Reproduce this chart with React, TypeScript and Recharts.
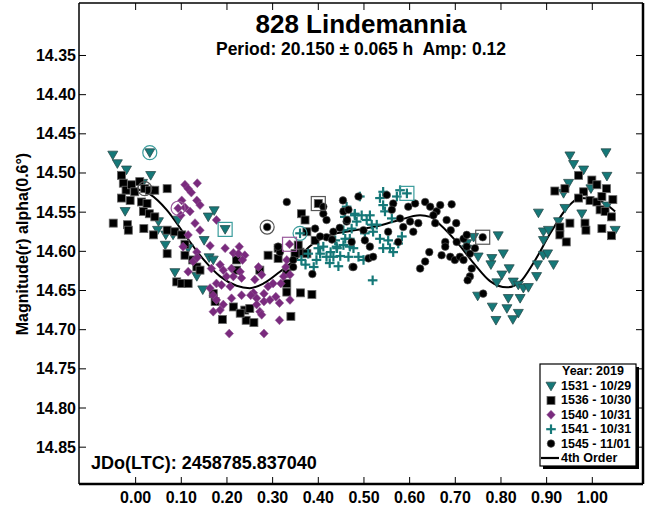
import { ComposedChart, Scatter, Line, XAxis, YAxis, ReferenceLine } from "recharts";

// phase / magnitude pairs
const S1531: [number, number][] = [
  [-0.05, 14.477], [-0.04, 14.488], [-0.02, 14.496], [0.031, 14.474], [0.033, 14.503], [0.015, 14.513],
  [-0.023, 14.549], [0.05, 14.562], [0.048, 14.573], [0.066, 14.579], [0.065, 14.592], [0.086, 14.627],
  [0.093, 14.56], [0.147, 14.649], [0.15, 14.586], [0.159, 14.556], [0.172, 14.548], [0.161, 14.608],
  [0.134, 14.632], [0.196, 14.572], [0.115, 14.596], [0.17, 14.611], [0.082, 14.579],
  [0.951, 14.478], [1.03, 14.474], [0.959, 14.489], [0.981, 14.496], [1.032, 14.504], [0.948, 14.513],
  [0.937, 14.526], [0.997, 14.52], [1.032, 14.542], [0.977, 14.552], [0.94, 14.545], [0.882, 14.551],
  [1.05, 14.573], [0.893, 14.575], [0.904, 14.573], [0.926, 14.562], [0.794, 14.58], [0.74, 14.582],
  [0.725, 14.59], [0.805, 14.603], [0.78, 14.609], [0.778, 14.617], [0.818, 14.622], [0.75, 14.607],
  [0.802, 14.63], [0.791, 14.64], [0.827, 14.639], [0.838, 14.643], [0.849, 14.647], [0.86, 14.646],
  [0.816, 14.66], [0.842, 14.66], [0.749, 14.657], [0.781, 14.671], [0.813, 14.673], [0.838, 14.679],
  [0.789, 14.688], [0.826, 14.687], [0.878, 14.632], [0.88, 14.617], [0.893, 14.605], [0.915, 14.617],
  [0.902, 14.603], [0.893, 14.586], [0.725, 14.597],
];

const S1536: [number, number][] = [
  [-0.031, 14.503], [-0.027, 14.513], [-0.021, 14.522], [-0.009, 14.515], [-0.002, 14.524], [0.009, 14.511],
  [0.02, 14.52], [0.03, 14.522], [0.042, 14.522], [0.069, 14.52], [-0.031, 14.532], [-0.012, 14.535],
  [0.013, 14.537], [0.025, 14.539], [0.017, 14.549], [0.03, 14.552], [0.042, 14.556], [-0.049, 14.564],
  [-0.018, 14.566], [-0.016, 14.573], [0.018, 14.571], [0.039, 14.579], [0.069, 14.573], [0.086, 14.575],
  [0.101, 14.579], [0.069, 14.603], [0.108, 14.605], [0.125, 14.611], [0.108, 14.591], [0.134, 14.62],
  [0.141, 14.624], [0.09, 14.639], [0.101, 14.641], [0.115, 14.641], [0.17, 14.654], [0.174, 14.664],
  [0.19, 14.687], [0.239, 14.675], [0.25, 14.673], [0.242, 14.688], [0.259, 14.691], [0.221, 14.624],
  [0.221, 14.611], [0.272, 14.624], [0.29, 14.605], [0.312, 14.596], [0.312, 14.609], [0.331, 14.628],
  [0.331, 14.641], [0.331, 14.652], [0.361, 14.653], [0.386, 14.655], [0.34, 14.683], [0.363, 14.552],
  [0.371, 14.56], [0.375, 14.575], [0.393, 14.586], [0.36, 14.601], [0.349, 14.603], [0.375, 14.603],
  [0.356, 14.592], [0.4, 14.539], [0.214, 14.671], [0.229, 14.679],
  [0.918, 14.523], [0.94, 14.52], [0.97, 14.503], [0.999, 14.509], [1.01, 14.515], [1.031, 14.52],
  [0.981, 14.524], [0.97, 14.532], [0.995, 14.535], [1.01, 14.537], [1.021, 14.53], [1.045, 14.534],
  [1.017, 14.547], [1.028, 14.549], [1.042, 14.556], [0.951, 14.564], [0.984, 14.564], [0.986, 14.573],
  [1.021, 14.571], [1.042, 14.58], [0.929, 14.569], [0.929, 14.579], [0.943, 14.588],
];

const S1540: [number, number][] = [
  [0.108, 14.515], [0.135, 14.513], [0.115, 14.52], [0.122, 14.525], [0.134, 14.535], [0.141, 14.541],
  [0.101, 14.535], [0.108, 14.544], [0.093, 14.545], [0.119, 14.549], [0.099, 14.554], [0.177, 14.56],
  [0.13, 14.564], [0.141, 14.573], [0.115, 14.579], [0.163, 14.593], [0.104, 14.594], [0.134, 14.601],
  [0.196, 14.596], [0.227, 14.594], [0.214, 14.602], [0.225, 14.603], [0.239, 14.605], [0.234, 14.611],
  [0.126, 14.613], [0.135, 14.608], [0.115, 14.626], [0.166, 14.622], [0.185, 14.617], [0.192, 14.624],
  [0.21, 14.622], [0.229, 14.626], [0.199, 14.632], [0.214, 14.632], [0.232, 14.634], [0.177, 14.641],
  [0.163, 14.647], [0.188, 14.643], [0.207, 14.645], [0.17, 14.656], [0.177, 14.662], [0.192, 14.668],
  [0.21, 14.66], [0.232, 14.656], [0.17, 14.677], [0.185, 14.675], [0.205, 14.705], [0.261, 14.636],
  [0.269, 14.62], [0.276, 14.63], [0.258, 14.653], [0.265, 14.66], [0.281, 14.654], [0.29, 14.645],
  [0.301, 14.641], [0.281, 14.664], [0.294, 14.662], [0.307, 14.658], [0.315, 14.666], [0.318, 14.641],
  [0.324, 14.632], [0.338, 14.63], [0.329, 14.62], [0.331, 14.611], [0.338, 14.662], [0.272, 14.677],
  [0.276, 14.681], [0.281, 14.705], [0.315, 14.688], [0.252, 14.656], [0.265, 14.668], [0.337, 14.591],
];

const S1541: [number, number][] = [
  [0.363, 14.611], [0.378, 14.603], [0.396, 14.611], [0.404, 14.603], [0.418, 14.607], [0.427, 14.601],
  [0.441, 14.596], [0.455, 14.592], [0.448, 14.606], [0.469, 14.584], [0.477, 14.596], [0.462, 14.543],
  [0.458, 14.556], [0.48, 14.552], [0.411, 14.594], [0.36, 14.577], [0.433, 14.607], [0.444, 14.619],
  [0.44, 14.594], [0.459, 14.584], [0.466, 14.607], [0.469, 14.594], [0.48, 14.554], [0.491, 14.53],
  [0.495, 14.554], [0.506, 14.56], [0.513, 14.554], [0.517, 14.566], [0.488, 14.607], [0.499, 14.611],
  [0.52, 14.575], [0.528, 14.566], [0.535, 14.532], [0.542, 14.524], [0.546, 14.549], [0.557, 14.596],
  [0.564, 14.601], [0.553, 14.586], [0.572, 14.53], [0.579, 14.522], [0.594, 14.526], [0.583, 14.581],
  [0.575, 14.59], [0.519, 14.637], [0.437, 14.586], [0.455, 14.573], [0.473, 14.571], [0.484, 14.562],
  [0.542, 14.596], [0.535, 14.584], [0.561, 14.558], [0.542, 14.541], [0.502, 14.577],
  [0.372, 14.617], [0.39, 14.62], [0.425, 14.615], [0.4, 14.596],
];

const S1545: [number, number][] = [
  [0.288, 14.569], [0.331, 14.537], [0.387, 14.629], [0.433, 14.575], [0.454, 14.535], [0.462, 14.562],
  [0.475, 14.62], [0.418, 14.582], [0.404, 14.581], [0.411, 14.543], [0.411, 14.552], [0.418, 14.56],
  [0.393, 14.571], [0.316, 14.601], [0.312, 14.594], [0.345, 14.611], [0.345, 14.62],
  [0.488, 14.53], [0.455, 14.549], [0.466, 14.547], [0.463, 14.56], [0.473, 14.588], [0.477, 14.62],
  [0.499, 14.573], [0.502, 14.586], [0.513, 14.594], [0.51, 14.609], [0.52, 14.607], [0.553, 14.575],
  [0.575, 14.588], [0.55, 14.528], [0.564, 14.539], [0.561, 14.547], [0.579, 14.558], [0.586, 14.569],
  [0.601, 14.562], [0.597, 14.543], [0.612, 14.539], [0.634, 14.537], [0.645, 14.543], [0.659, 14.549],
  [0.652, 14.554], [0.656, 14.564], [0.608, 14.575], [0.619, 14.564], [0.667, 14.541], [0.692, 14.54],
  [0.681, 14.56], [0.702, 14.564], [0.69, 14.573], [0.678, 14.588], [0.678, 14.594], [0.703, 14.588],
  [0.718, 14.584], [0.725, 14.579], [0.76, 14.582], [0.643, 14.601], [0.634, 14.613], [0.623, 14.622],
  [0.67, 14.605], [0.689, 14.607], [0.699, 14.611], [0.71, 14.607], [0.718, 14.611], [0.732, 14.603],
  [0.743, 14.596], [0.725, 14.594], [0.736, 14.622], [0.732, 14.632], [0.727, 14.637], [0.761, 14.654],
  [0.43, 14.585], [0.447, 14.57],
];

// 4th order fit, sampled along the drawn curve
const FIT: [number, number][] = [
  [0.0, 14.52], [0.031, 14.527], [0.068, 14.547], [0.108, 14.579], [0.148, 14.61], [0.185, 14.632],
  [0.221, 14.644], [0.25, 14.647], [0.28, 14.641], [0.316, 14.626], [0.353, 14.609], [0.389, 14.59],
  [0.426, 14.579], [0.47, 14.574], [0.52, 14.569], [0.572, 14.561], [0.623, 14.554], [0.645, 14.556],
  [0.667, 14.566], [0.703, 14.588], [0.74, 14.615], [0.776, 14.638], [0.813, 14.646], [0.842, 14.639],
  [0.871, 14.615], [0.908, 14.577], [0.944, 14.545], [0.973, 14.532], [1.01, 14.534], [1.05, 14.549],
];

// first / last observation markers of each session
const CIRCLED: [string, number, number][] = [
  ["1531", 0.031, 14.474], ["1536", 0.02, 14.52], ["1540", 0.093, 14.545], ["1541", 0.36, 14.577], ["1545", 0.288, 14.569],
];
const BOXED: [string, number, number][] = [
  ["1531", 0.196, 14.572], ["1536", 0.4, 14.539], ["1540", 0.337, 14.591], ["1541", 0.594, 14.526], ["1545", 0.76, 14.582],
];

const X_TICKS = [0, 0.1, 0.2, 0.3, 0.4, 0.5, 0.6, 0.7, 0.8, 0.9, 1.0];
const Y_TICKS = [14.35, 14.4, 14.45, 14.5, 14.55, 14.6, 14.65, 14.7, 14.75, 14.8, 14.85];
const X_DOMAIN = [-0.124, 1.111];
const Y_DOMAIN = [14.283, 14.897];

const W = 651;
const H = 506;
const MARGIN = { top: 3, right: 8, bottom: 0, left: 0 };
const YAXIS_W = 79;
const XAXIS_H = 22;
const TOP = MARGIN.top;
const BOTTOM = H - XAXIS_H;
const LEFT = YAXIS_W;
const RIGHT = W - MARGIN.right;

const FONT = "'Liberation Sans', Arial, sans-serif";
const TEAL = "#157878";
const PURPLE = "#7a2a7e";

const RING: Record<string, string> = {
  "1531": "#3a9c9c",
  "1536": "#555",
  "1540": "#9a5a9c",
  "1541": "#3a9c9c",
  "1545": "#555",
};

const pts = (arr: [number, number][]) => arr.map(([phase, mag]) => ({ phase, mag }));
const marked = (arr: [string, number, number][]) => arr.map(([id, phase, mag]) => ({ id, phase, mag }));

const Tri = (p: any) => (
  <polygon
    points={`${p.cx - 5},${p.cy - 3.8} ${p.cx + 5},${p.cy - 3.8} ${p.cx},${p.cy + 4.8}`}
    fill={TEAL}
    stroke="#2b4d4d"
    strokeWidth={0.8}
  />
);
const Sq = (p: any) => (
  <rect x={p.cx - 4} y={p.cy - 4} width={8} height={8} fill="#000" stroke="#666" strokeWidth={0.8} />
);
const Dia = (p: any) => (
  <polygon
    points={`${p.cx},${p.cy - 4.5} ${p.cx + 4.3},${p.cy} ${p.cx},${p.cy + 4.5} ${p.cx - 4.3},${p.cy}`}
    fill={PURPLE}
    stroke="#8e5a90"
    strokeWidth={0.5}
  />
);
const Plus = (p: any) => (
  <g stroke={TEAL} strokeWidth={2.2}>
    <line x1={p.cx - 4.8} x2={p.cx + 4.8} y1={p.cy} y2={p.cy} />
    <line x1={p.cx} x2={p.cx} y1={p.cy - 4.8} y2={p.cy + 4.8} />
  </g>
);
const Dot = (p: any) => <circle cx={p.cx} cy={p.cy} r={3.8} fill="#000" stroke="#555" strokeWidth={0.6} />;
const Ring = (p: any) => (
  <circle cx={p.cx} cy={p.cy} r={7} fill="none" stroke={RING[p.payload.id]} strokeWidth={1.2} />
);
const Box = (p: any) => (
  <rect x={p.cx - 7} y={p.cy - 7} width={14} height={14} fill="none" stroke={RING[p.payload.id]} strokeWidth={1.2} />
);

const XTick = ({ x, payload }: any) => (
  <g>
    <line x1={x} x2={x} y1={BOTTOM} y2={BOTTOM - 7} stroke="#000" strokeWidth={1} />
    <line x1={x} x2={x} y1={TOP} y2={TOP + 7} stroke="#000" strokeWidth={1} />
    <text x={x} y={BOTTOM + 13} textAnchor="middle" dominantBaseline="central" fontFamily={FONT} fontWeight="bold" fontSize={16} fill="#000">
      {payload.value.toFixed(2)}
    </text>
  </g>
);

const YTick = ({ y, payload }: any) => (
  <g>
    <line x1={LEFT} x2={LEFT + 7} y1={y} y2={y} stroke="#000" strokeWidth={1} />
    <line x1={RIGHT} x2={RIGHT - 7} y1={y} y2={y} stroke="#000" strokeWidth={1} />
    <text x={LEFT - 3} y={y} textAnchor="end" dominantBaseline="central" fontFamily={FONT} fontWeight="bold" fontSize={16} fill="#000">
      {payload.value.toFixed(2)}
    </text>
  </g>
);

const LEGEND_ROWS = [
  { label: "1531 - 10/29", icon: Tri },
  { label: "1536 - 10/30", icon: Sq },
  { label: "1540 - 10/31", icon: Dia },
  { label: "1541 - 10/31", icon: Plus },
  { label: "1545 - 11/01", icon: Dot },
];

function Overlay() {
  const lx = 540;
  const ly = 364;
  const rowH = 14.4;
  return (
    <svg width={W} height={H} style={{ position: "absolute", left: 0, top: 0, pointerEvents: "none" }} fontFamily={FONT} fontWeight="bold">
      <text x={(LEFT + RIGHT) / 2} y={33} textAnchor="middle" fontSize={26}>828 Lindemannia</text>
      <text x={(LEFT + RIGHT) / 2} y={55} textAnchor="middle" fontSize={17.5} style={{ whiteSpace: "pre" }}>
        {"Period: 20.150 ± 0.065 h  Amp: 0.12"}
      </text>
      <text x={91} y={469} fontSize={18}>JDo(LTC): 2458785.837040</text>
      <text
        x={22}
        y={244}
        fontSize={16}
        textAnchor="middle"
        dominantBaseline="central"
        transform="rotate(-90 22 244)"
      >
        Magnitude(r) alpha(0.6°)
      </text>
      <rect x={lx + 3} y={ly + 3} width={96} height={102} fill="#000" />
      <rect x={lx} y={ly} width={96} height={102} fill="#fff" stroke="#000" strokeWidth={1.2} />
      <text x={lx + 22} y={ly + 7} dominantBaseline="central" fontSize={12.5}>Year: 2019</text>
      {LEGEND_ROWS.map((r, i) => {
        const cy = ly + 22 + i * rowH;
        const Icon = r.icon;
        return (
          <g key={r.label}>
            <Icon cx={lx + 11} cy={cy} />
            <text x={lx + 21} y={cy} dominantBaseline="central" fontSize={12.5}>{r.label}</text>
          </g>
        );
      })}
      <line x1={lx + 1} x2={lx + 19} y1={ly + 22 + 5 * rowH} y2={ly + 22 + 5 * rowH} stroke="#000" strokeWidth={2.2} />
      <text x={lx + 21} y={ly + 22 + 5 * rowH} dominantBaseline="central" fontSize={12.5}>4th Order</text>
    </svg>
  );
}

export default function App() {
  return (
    <div style={{ position: "absolute", left: 0, top: 0, width: W, height: H, background: "#fff" }}>
      <ComposedChart width={W} height={H} margin={MARGIN}>
        <XAxis
          type="number"
          dataKey="phase"
          domain={X_DOMAIN}
          ticks={X_TICKS}
          allowDataOverflow
          height={XAXIS_H}
          tickSize={0}
          tickMargin={0}
          tickLine={false}
          axisLine={false}
          tick={XTick}
          interval={0}
        />
        <YAxis
          type="number"
          dataKey="mag"
          domain={Y_DOMAIN}
          ticks={Y_TICKS}
          reversed
          allowDataOverflow
          width={YAXIS_W}
          tickSize={0}
          tickMargin={0}
          tickLine={false}
          axisLine={false}
          tick={YTick}
          interval={0}
        />
        <ReferenceLine x={X_DOMAIN[0]} stroke="#000" strokeWidth={1.5} />
        <ReferenceLine y={Y_DOMAIN[0]} stroke="#000" strokeWidth={1.5} />
        <ReferenceLine x={X_DOMAIN[1]} stroke="#000" strokeWidth={2.5} />
        <ReferenceLine y={Y_DOMAIN[1]} stroke="#000" strokeWidth={2.5} />
        <Scatter name="1531 - 10/29" data={pts(S1531)} shape={Tri} isAnimationActive={false} />
        <Scatter name="1536 - 10/30" data={pts(S1536)} shape={Sq} isAnimationActive={false} />
        <Scatter name="1540 - 10/31" data={pts(S1540)} shape={Dia} isAnimationActive={false} />
        <Scatter name="1541 - 10/31" data={pts(S1541)} shape={Plus} isAnimationActive={false} />
        <Scatter name="1545 - 11/01" data={pts(S1545)} shape={Dot} isAnimationActive={false} />
        <Line
          name="4th Order"
          data={pts(FIT)}
          dataKey="mag"
          type="monotone"
          stroke="#000"
          strokeWidth={2}
          dot={false}
          isAnimationActive={false}
        />
        <Scatter data={marked(CIRCLED)} shape={Ring} isAnimationActive={false} />
        <Scatter data={marked(BOXED)} shape={Box} isAnimationActive={false} />
      </ComposedChart>
      <Overlay />
    </div>
  );
}
